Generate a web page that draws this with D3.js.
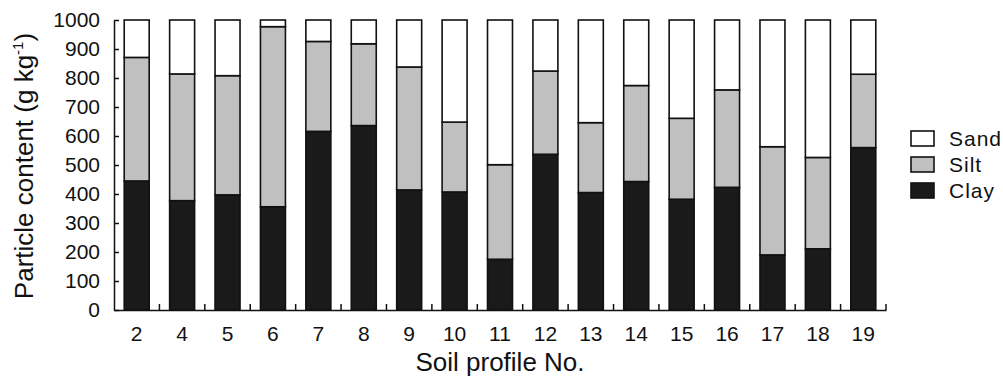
<!DOCTYPE html>
<html lang="en">
<head>
<meta charset="utf-8">
<title>Soil particle content</title>
<script src="https://cdnjs.cloudflare.com/ajax/libs/d3/7.8.5/d3.min.js"></script>
<style>
  body { margin: 0; background: #fff; }
  svg { display: block; font-family: "Liberation Sans", Arial, sans-serif; }
  .axis text { font-size: 21px; fill: #111; }
  .axis path, .axis line { stroke: #111; stroke-width: 1.5px; }
</style>
</head>
<body>
<div id="chart"></div>
<script>
// profiles and particle fractions, g/kg
const profiles = ["2","4","5","6","7","8","9","10","11","12","13","14","15","16","17","18","19"];
const clay = [445, 377, 397, 356, 616, 636, 414, 407, 175, 537, 405, 443, 382, 423, 190, 211, 560];
const silt = [426, 437, 411, 621, 310, 282, 424, 241, 326, 287, 241, 331, 279, 336, 373, 315, 253];
const sand = [129, 186, 192, 23, 74, 82, 162, 352, 499, 176, 354, 226, 339, 241, 437, 474, 187];
const yTicks = [0, 100, 200, 300, 400, 500, 600, 700, 800, 900, 1000];
const fractions = ["Clay", "Silt", "Sand"];
const legendOrder = ["Sand", "Silt", "Clay"];

const width = 1003, height = 379;
const margin = {left: 114, right: 117, top: 20, bottom: 69};

const svg = d3.select("#chart").append("svg")
    .attr("width", width)
    .attr("height", height);

const rows = profiles.map((p, i) => ({profile: p, Clay: clay[i], Silt: silt[i], Sand: sand[i]}));
const stacked = d3.stack().keys(fractions)(rows);

const x = d3.scaleBand()
    .domain(profiles)
    .range([margin.left, width - margin.right])
    .paddingInner(0.45)
    .paddingOuter(0.225);

const y = d3.scaleLinear()
    .domain([0, 1000])
    .range([height - margin.bottom, margin.top]);

const colour = d3.scaleOrdinal()
    .domain(fractions)
    .range(["#1a1a1a", "#c0c0c0", "#ffffff"]);

// bars
svg.append("g").attr("class", "bars")
  .selectAll("g")
  .data(stacked)
  .join("g")
    .attr("fill", d => colour(d.key))
  .selectAll("rect")
  .data(d => d)
  .join("rect")
    .attr("x", d => x(d.data.profile))
    .attr("y", d => y(d[1]))
    .attr("width", x.bandwidth())
    .attr("height", d => y(d[0]) - y(d[1]))
    .attr("stroke", "#111")
    .attr("stroke-width", 1.6);

// y axis, ticks pointing inward
svg.append("g")
    .attr("class", "axis y")
    .attr("transform", `translate(${margin.left},0)`)
    .call(d3.axisLeft(y).tickValues(yTicks).tickFormat(d3.format("d"))
        .tickSizeInner(-5).tickSizeOuter(0).tickPadding(14));

// x axis
const xAxisG = svg.append("g")
    .attr("class", "axis x")
    .attr("transform", `translate(0,${height - margin.bottom})`)
    .call(d3.axisBottom(x).tickSize(0).tickPadding(16));

// small upward ticks between the bars
const pad = x.step() * x.paddingOuter();
xAxisG.selectAll("line.sep")
  .data(profiles)
  .join("line")
    .attr("class", "sep")
    .attr("x1", d => x(d) + x.bandwidth() + pad)
    .attr("x2", d => x(d) + x.bandwidth() + pad)
    .attr("y1", 0)
    .attr("y2", -6);

// axis titles
svg.append("text")
    .attr("x", (margin.left + width - margin.right) / 2)
    .attr("y", 371)
    .attr("text-anchor", "middle")
    .attr("font-size", 26)
    .attr("fill", "#111")
    .text("Soil profile No.");

const yTitle = svg.append("text")
    .attr("transform", "translate(33,166) rotate(-90)")
    .attr("text-anchor", "middle")
    .attr("font-size", 26)
    .attr("fill", "#111");
yTitle.append("tspan").text("Particle content (g kg");
yTitle.append("tspan").attr("font-size", 15).attr("dy", -10).text("-1");
yTitle.append("tspan").attr("dy", 10).text(")");

// legend
const legend = svg.append("g")
    .attr("transform", "translate(911,131)")
  .selectAll("g")
  .data(legendOrder)
  .join("g")
    .attr("transform", (d, i) => `translate(0,${i * 26})`);

legend.append("rect")
    .attr("width", 23)
    .attr("height", 15)
    .attr("fill", d => colour(d))
    .attr("stroke", "#111")
    .attr("stroke-width", 1.6);

legend.append("text")
    .attr("x", 38)
    .attr("y", 15)
    .attr("font-size", 21)
    .attr("letter-spacing", 1)
    .attr("fill", "#111")
    .text(d => d);
</script>
</body>
</html>
